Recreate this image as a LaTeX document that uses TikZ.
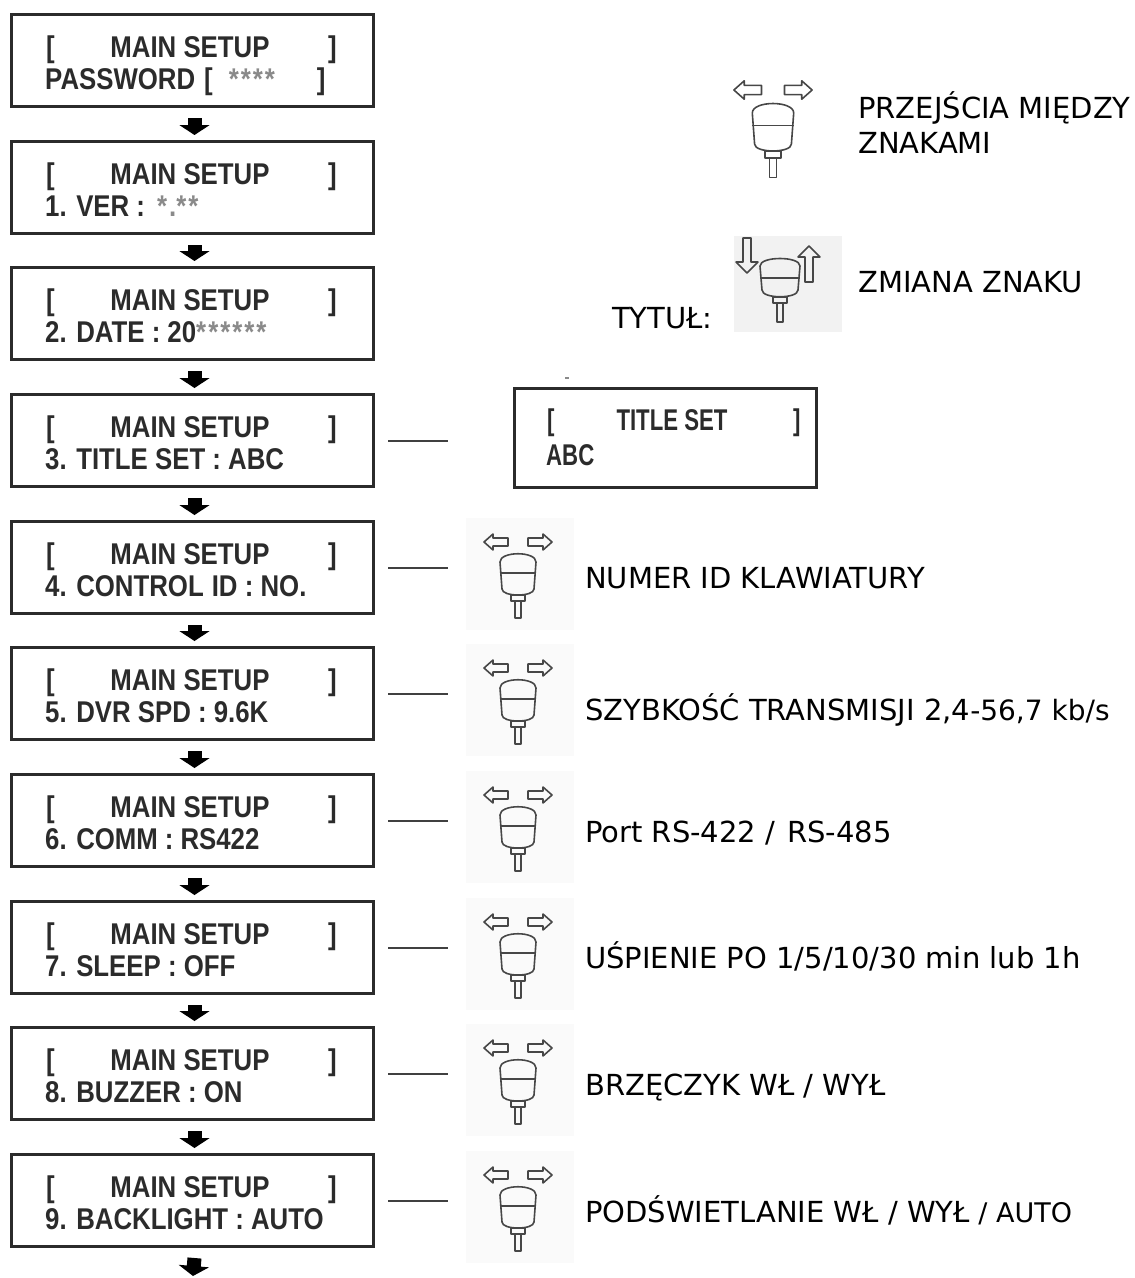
\documentclass[tikz,border=0pt]{standalone}
\usepackage{fontspec}
\setmainfont{DejaVu Sans}
\newfontfamily\lcdfont[FakeStretch=0.86]{Liberation Sans}
\newfontfamily\ttlfont[FakeStretch=0.74]{Liberation Sans}
\usetikzlibrary{arrows.meta,calc}
\definecolor{lcdink}{HTML}{2B2B2B}
\definecolor{joyink}{HTML}{474747}
\definecolor{starink}{HTML}{8A8A8A}
\definecolor{faint}{HTML}{FAFAFA}
\definecolor{faintb}{HTML}{F2F2F2}
\newcommand\st{\textcolor{starink}{*}\kern2pt}
\newcommand\lcdbox[3]{%
  \node[lcd] (#1) at (10,#2) {};
  \node[ltxt] (#1a) at ($(#1.north west)+(36,44)$) {[};
  \node[ltxt,anchor=base] (#1b) at ($(#1.north west)+(180,44)$) {MAIN SETUP};
  \node[ltxt] (#1c) at ($(#1.north west)+(318,44)$) {]};
  \node[ltxt] (#1d) at ($(#1.north west)+(35,76)$) {#3};
}
\begin{document}
\begin{tikzpicture}[x=1pt,y=-1pt,
  lcd/.style={draw=lcdink, line width=3pt, minimum width=362pt, minimum height=92pt, inner sep=0pt, anchor=north west},
  ltxt/.style={font=\lcdfont\bfseries\fontsize{30}{30}\selectfont, text=lcdink, inner sep=0pt, anchor=base west},
  ttxt/.style={font=\ttlfont\bfseries\fontsize{30}{30}\selectfont, text=lcdink, inner sep=0pt, anchor=base west},
  rtxt/.style={font=\fontsize{29}{29}\selectfont, inner sep=0pt, anchor=base west},
  link/.style={draw=black!75, line width=2pt},
  fat/.style={line width=14pt, -{Triangle[width=30pt,length=10pt]}},
  joyline/.style={draw=joyink, line width=1.6pt, line join=round},
  joybg/.style={fill=faint, draw=none, minimum width=108pt, minimum height=112pt, inner sep=0pt},
  joy/.pic={
    \draw[joyline] (-34,0) -- (-25,-8) -- (-25,-4) -- (-10,-4) -- (-10,4) -- (-25,4) -- (-25,8) -- cycle;
    \draw[joyline] (34,0) -- (25,-8) -- (25,-4) -- (10,-4) -- (10,4) -- (25,4) -- (25,8) -- cycle;
    \draw[joyline] (-18,20) .. controls (-18,9) and (18,9) .. (18,20) -- (16,47) .. controls (16,55) and (-16,55) .. (-16,47) -- cycle;
    \draw[joyline] (-18,31) -- (18,31);
    \draw[joyline] (-7,53) rectangle (7,59);
    \draw[joyline] (-3,59) rectangle (3,76);
  }
]
\useasboundingbox (0,0) rectangle (1135,1278);

% left column
\lcdbox{b0}{13}{PASSWORD\hspace{9pt}[\hspace{16pt}\st\st\st\st\hspace{40pt}]}
\lcdbox{b1}{140}{1. VER :\hspace{12pt}\st\textcolor{starink}{.}\st\st}
\lcdbox{b2}{266}{2. DATE : 20\st\st\st\st\st\st}
\lcdbox{b3}{393}{3. TITLE SET : ABC}
\lcdbox{b4}{520}{4. CONTROL\hspace{8pt}ID : NO.}
\lcdbox{b5}{646}{5. DVR SPD : 9.6K}
\lcdbox{b6}{773}{6. COMM\hspace{7pt}:\hspace{7pt}RS422}
\lcdbox{b7}{900}{7. SLEEP : OFF}
\lcdbox{b8}{1026}{8. BUZZER : ON}
\lcdbox{b9}{1153}{9. BACKLIGHT : AUTO}

\foreach \a/\b in {b0/b1,b1/b2,b2/b3,b3/b4,b4/b5,b5/b6,b6/b7,b7/b8,b8/b9}
  \draw[fat] ($(\a.south)+(2,10)$) -- ($(\b.north)+(2,-5)$);
\coordinate (endarr) at (193,1276);
\draw[fat] ($(b9.south)+(2,10)$) -- (endarr);

% title set box
\node[draw=lcdink, line width=3pt, minimum width=302pt, minimum height=99pt, inner sep=0pt, anchor=north west] (tb) at (513,387) {};
\node[ttxt] (tba) at ($(tb.north west)+(34,43)$) {[};
\node[ttxt,anchor=base] (tbb) at ($(tb.north west)+(159,43)$) {TITLE SET};
\node[ttxt] (tbc) at ($(tb.north west)+(280,43)$) {]};
\node[ttxt] (tbd) at ($(tb.north west)+(33,78)$) {ABC};
\draw[starink, line width=1.5pt] (565,378) -- (569,378);
\draw[link] ($(b3.east)+(13,0)$) -- ($(tb.west |- b3.east)+(-65,0)$);

% joystick icons on the rows
\foreach \r/\c in {4/566,5/692,6/819,7/946,8/1072,9/1199}{
  \node[joybg] (j\r) at (520,\c+8) {};
  \pic at (518,\c-24) {joy};
  \draw[link] ($(b\r.east)+(13,0)$) -- ($(j\r.west |- b\r.east)+(-18,0)$);
}

% top legend icons
\pic[scale=1.15] at (773,90) {joy};
\node[fill=faintb, draw=none, minimum width=108pt, minimum height=96pt, inner sep=0pt] (j2) at (788,284) {};
\draw[joyline] (760,266) .. controls (760,256) and (800,256) .. (800,266) -- (798,290) .. controls (798,299) and (762,299) .. (762,290) -- cycle;
\draw[joyline] (760,278) -- (800,278);
\draw[joyline] (773,297) rectangle (787,303);
\draw[joyline] (777,303) rectangle (783,322);
\draw[joyline] (743,238) -- (751,238) -- (751,262) -- (758,262) -- (747,273) -- (736,262) -- (743,262) -- cycle;
\draw[joyline] (805,282) -- (813,282) -- (813,257) -- (820,257) -- (809,246) -- (798,257) -- (805,257) -- cycle;

% texts
\node[rtxt] (t1) at (858,118) {PRZEJŚCIA MIĘDZY};
\node[rtxt] (t2) at (858,153) {ZNAKAMI};
\node[rtxt] (t3) at (858,292) {ZMIANA ZNAKU};
\node[rtxt] (t4) at (612,328) {TYTUŁ:};
\node[rtxt] (r4) at (585,588) {NUMER ID KLAWIATURY};
\node[rtxt] (r5) at (585,720) {SZYBKOŚĆ TRANSMISJI 2,4{\fontsize{28}{28}\selectfont-56,7 kb/s}};
\node[rtxt] (r6) at (585,842) {Port RS-422 /\hspace{12pt}RS-485};
\node[rtxt] (r7) at (585,968) {UŚPIENIE PO 1/5/10/30 min lub 1h};
\node[rtxt] (r8) at (585,1095) {BRZĘCZYK WŁ / WYŁ};
\node[rtxt] (r9) at (585,1222) {PODŚWIETLANIE WŁ / WYŁ{\fontsize{27}{27}\selectfont{} / AUTO}};
\end{tikzpicture}
\end{document}
